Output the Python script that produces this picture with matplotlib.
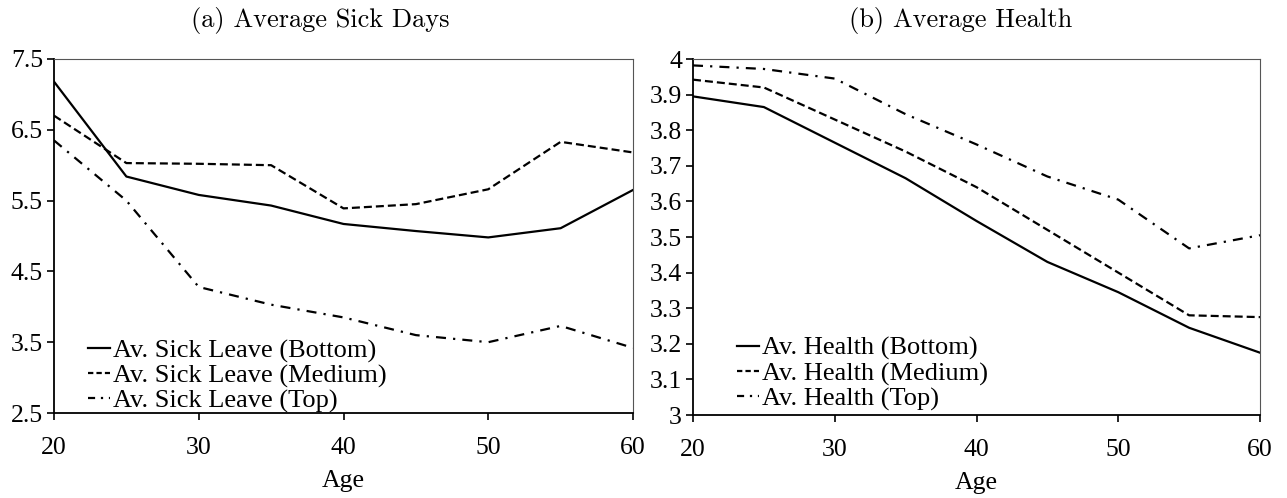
import matplotlib
matplotlib.use("Agg")
import matplotlib.pyplot as plt

ages = [20, 25, 30, 35, 40, 45, 50, 55, 60]

sick_bottom = [7.18, 5.84, 5.58, 5.43, 5.17, 5.07, 4.98, 5.11, 5.65]
sick_medium = [6.70, 6.03, 6.02, 6.00, 5.39, 5.45, 5.66, 6.33, 6.18]
sick_top = [6.35, 5.50, 4.28, 4.03, 3.85, 3.60, 3.50, 3.73, 3.42]

health_bottom = [3.895, 3.865, 3.765, 3.665, 3.545, 3.430, 3.345, 3.245, 3.175]
health_medium = [3.942, 3.920, 3.830, 3.740, 3.640, 3.520, 3.400, 3.280, 3.275]
health_top = [3.982, 3.972, 3.945, 3.845, 3.760, 3.670, 3.605, 3.468, 3.505]

sick_ticks = [2.5, 3.5, 4.5, 5.5, 6.5, 7.5]
sick_ticklabels = ["2.5", "3.5", "4.5", "5.5", "6.5", "7.5"]
health_ticks = [3.0, 3.1, 3.2, 3.3, 3.4, 3.5, 3.6, 3.7, 3.8, 3.9, 4.0]
health_ticklabels = ["3", "3.1", "3.2", "3.3", "3.4", "3.5", "3.6", "3.7", "3.8", "3.9", "4"]
age_ticks = [20, 30, 40, 50, 60]

plt.rcParams["font.family"] = ["Liberation Serif", "DejaVu Serif"]

fig = plt.figure(figsize=(12.87, 4.98), dpi=100)
W, H = 1287, 498
ax1 = fig.add_axes([54 / W, 1 - 413 / H, (633 - 54) / W, (413 - 59) / H])
ax2 = fig.add_axes([693 / W, 1 - 415 / H, (1260 - 693) / W, (415 - 59) / H])

styles = [dict(ls="-"), dict(ls=(0, (3.6, 1.8))), dict(ls=(0, (4.5, 3.2, 1, 3.2)))]


def style_axes(ax, yticks, ylabels, ylim):
    ax.set_xlim(20, 60)
    ax.set_ylim(*ylim)
    ax.set_xticks(age_ticks)
    ax.set_xticklabels([str(a) for a in age_ticks])
    ax.set_yticks(yticks)
    ax.set_yticklabels(ylabels)
    ax.tick_params(axis="both", direction="out", length=5, width=1.2,
                   labelsize=18.5, color="black")
    ax.tick_params(axis="x", pad=12)
    ax.tick_params(axis="y", pad=3)
    for side in ("left", "bottom"):
        ax.spines[side].set_linewidth(1.3)
        ax.spines[side].set_color("black")
    for side in ("top", "right"):
        ax.spines[side].set_linewidth(0.8)
        ax.spines[side].set_color("#555555")
    ax.set_xlabel("Age", fontsize=18.5, labelpad=8)


labels1 = ["Av. Sick Leave (Bottom)", "Av. Sick Leave (Medium)", "Av. Sick Leave (Top)"]
for vals, st, lab in zip([sick_bottom, sick_medium, sick_top], styles, labels1):
    ax1.plot(ages, vals, color="black", lw=1.6, label=lab, **st)
style_axes(ax1, sick_ticks, sick_ticklabels, (2.5, 7.5))

labels2 = ["Av. Health (Bottom)", "Av. Health (Medium)", "Av. Health (Top)"]
for vals, st, lab in zip([health_bottom, health_medium, health_top], styles, labels2):
    ax2.plot(ages, vals, color="black", lw=1.6, label=lab, **st)
style_axes(ax2, health_ticks, health_ticklabels, (3.0, 4.0))

for ax, anchor in ((ax1, (0.0587, 0.0)), (ax2, (0.0776, 0.012))):
    leg = ax.legend(loc="lower left", frameon=False, fontsize=19, handlelength=0.85,
                    handletextpad=0.08, labelspacing=0.05, borderaxespad=0.0,
                    borderpad=0.0, bbox_to_anchor=anchor)
    # shorter dashes in the key so each pattern reads within the short handle
    leg.get_lines()[1].set_linestyle((0, (2.4, 1.4)))
    leg.get_lines()[2].set_linestyle((0, (3.2, 2.6, 1, 2.6)))

fig.text(320 / W, 1 - 21 / H, "(a) Average Sick Days", ha="center",
         va="center", fontsize=19, family="cmr10")
fig.text(961 / W, 1 - 21 / H, "(b) Average Health", ha="center",
         va="center", fontsize=19, family="cmr10")

fig.savefig("out.png", dpi=100)
